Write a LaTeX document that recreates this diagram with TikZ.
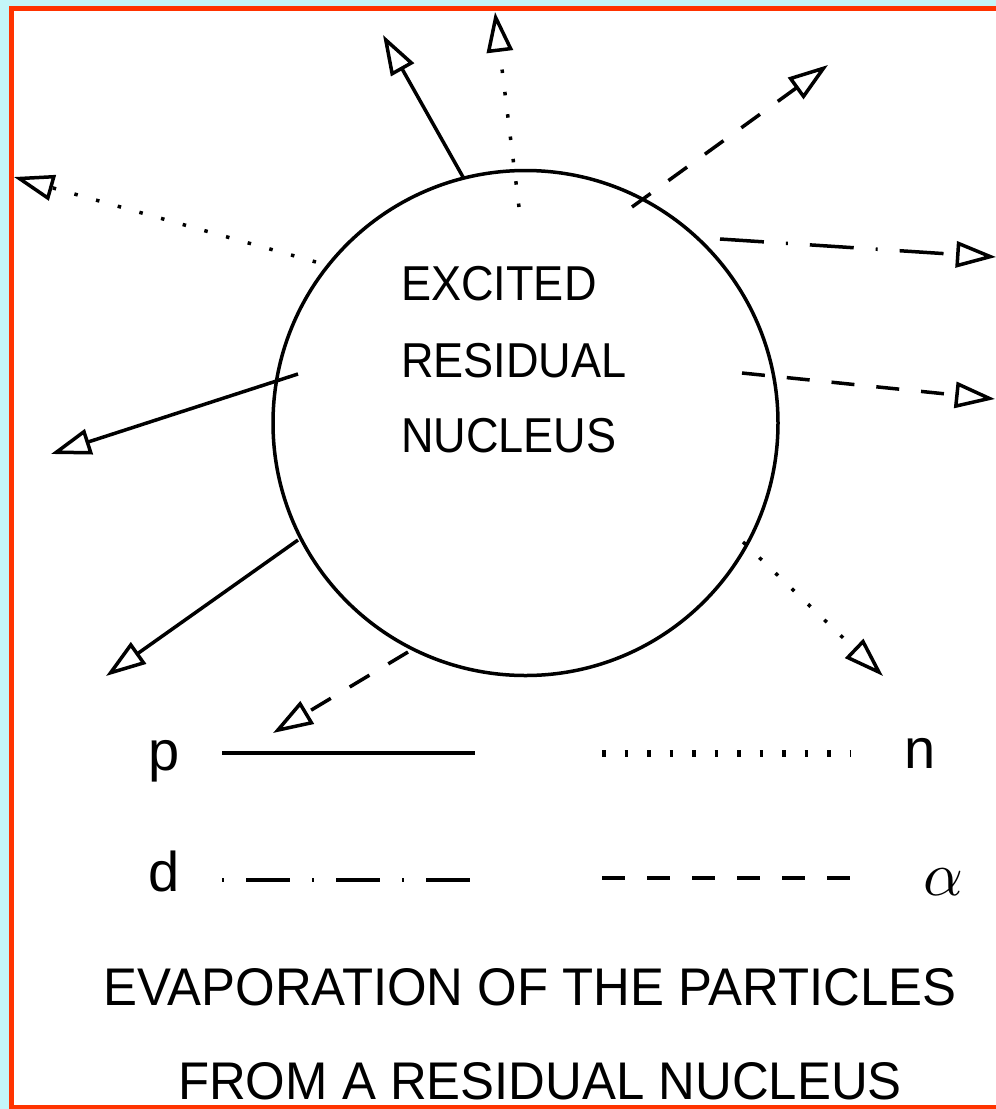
\documentclass[tikz,border=0pt]{standalone}
\usepackage{fontspec}
\setmainfont{Liberation Sans}
\newfontfamily\nucfont[FakeStretch=0.92]{Liberation Sans}
\newfontfamily\capfont[FakeStretch=0.96]{Liberation Sans}
\usetikzlibrary{arrows.meta}
\definecolor{bgcyan}{RGB}{196,246,248}
\definecolor{framered}{RGB}{255,51,0}
\tikzset{
  emit/.style={-{Triangle[open,length=40pt,width=26pt]}},
  proton/.style={line width=3.5pt},
  neutron/.style={line width=3.5pt,dash pattern=on 3.5pt off 19pt},
  deuteron/.style={line width=3.5pt,dash pattern=on 44pt off 22pt on 2pt off 22pt},
  alphap/.style={line width=3.5pt,dash pattern=on 23pt off 22pt},
  nuctext/.style={font=\nucfont\fontsize{49}{55}\selectfont,anchor=base west,inner sep=0pt},
  captext/.style={font=\capfont\fontsize{53}{60}\selectfont,anchor=base,inner sep=0pt},
  legtext/.style={font=\fontsize{56}{60}\selectfont,anchor=base,inner sep=0pt},
}

\begin{document}
\begin{tikzpicture}[x=1pt,y=-1pt]
\useasboundingbox (0,0) rectangle (996,1109);
% frame
\fill[bgcyan] (0,0) rectangle (996,1109);
\fill[white] (11.5,8.5) rectangle (1005,1107.5);
\draw[framered,line width=5pt] (11.5,8.5) rectangle (1005,1107.5);
% nucleus
\node[draw,circle,line width=3.5pt,minimum size=505pt,inner sep=0pt] (nuc) at (525.5,423) {};
\node[nuctext] (exc) at (401,300) {EXCITED};
\node[nuctext] (res) at (401,377) {RESIDUAL};
\node[nuctext] (ncl) at (401,452) {NUCLEUS};
% protons
\coordinate (pS1) at (463,177); \coordinate (pE1) at (383,35);
\coordinate (pS2) at (298,374); \coordinate (pE2) at (51,454);
\coordinate (pS3) at (298,540); \coordinate (pE3) at (106,676);
\foreach \k in {1,2,3} {\draw[proton,emit] (pS\k) -- (pE\k);}
% neutrons
\coordinate (nS1) at (519,207); \coordinate (nE1) at (495,12);
\coordinate (nS2) at (316,262); \coordinate (nE2) at (14,177);
\coordinate (nS3) at (743,542); \coordinate (nE3) at (883,676);
\foreach \k in {1,2,3} {\draw[neutron,emit] (nS\k) -- (nE\k);}
% deuteron
\coordinate (dS1) at (720,239); \coordinate (dE1) at (996,257);
\draw[deuteron,emit] (dS1) -- (dE1);
% alphas
\coordinate (aS1) at (632,207); \coordinate (aE1) at (828,65);
\coordinate (aS2) at (742,373); \coordinate (aE2) at (995,399);
\coordinate (aS3) at (408,652); \coordinate (aE3) at (273,733);
\foreach \k in {1,2,3} {\draw[alphap,emit] (aS\k) -- (aE\k);}
% legend
\node[legtext] (lp) at (164,770) {p};
\node[legtext] (ln) at (920,768) {n};
\node[legtext] (ld) at (164,891) {d};
\node[anchor=base,inner sep=0pt,scale=6.2] (la) at (943,895) {$\alpha$};
\coordinate (lpL) at (222,753); \coordinate (lpR) at (475,753);
\coordinate (lnL) at (602,753); \coordinate (lnR) at (850,753);
\coordinate (ldL) at (222,880); \coordinate (ldR) at (470,880);
\coordinate (laL) at (602,878); \coordinate (laR) at (850,878);
\draw[proton] (lpL) -- (lpR);
\draw[neutron,line width=7pt] (lnL) -- (lnR);
\draw[deuteron,dash phase=66pt] (ldL) -- (ldR);
\draw[alphap] (laL) -- (laR);
% caption
\node[captext] (cap1) at (530,1005) {EVAPORATION OF THE PARTICLES};
\node[captext] (cap2) at (540,1099) {FROM A RESIDUAL NUCLEUS};
\end{tikzpicture}
\end{document}
